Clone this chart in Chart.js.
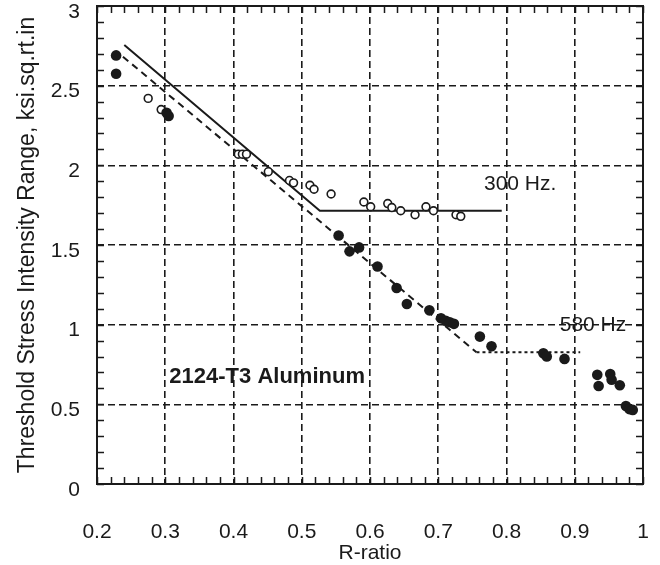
<!DOCTYPE html>
<html>
<head>
    <title>Threshold stress intensity vs R-ratio</title>
    <meta charset="UTF-8">
    <script src="https://cdn.jsdelivr.net/npm/chart.js@4.4.1/dist/chart.umd.min.js"></script>
    <style>
        body { margin: 0; background: #fff; }
        canvas { display: block; }
    </style>
</head>
<body>
<canvas id="myChart" width="660" height="565"></canvas>
<script>
    // 300 Hz tests (open circles)
    const r300 = [0.275, 0.294, 0.407, 0.413, 0.419, 0.451, 0.482, 0.488, 0.512, 0.518, 0.543,
                  0.591, 0.601, 0.626, 0.632, 0.645, 0.666, 0.682, 0.693, 0.726, 0.733];
    const dk300 = [2.42, 2.35, 2.07, 2.07, 2.07, 1.96, 1.905, 1.89, 1.875, 1.85, 1.82,
                   1.77, 1.74, 1.76, 1.735, 1.715, 1.69, 1.74, 1.715, 1.69, 1.68];

    // 580 Hz tests (filled circles)
    const r580 = [0.228, 0.228, 0.302, 0.305, 0.554, 0.570, 0.584, 0.611, 0.639, 0.654, 0.687,
                  0.704, 0.711, 0.717, 0.723, 0.761, 0.778, 0.854, 0.859, 0.885,
                  0.933, 0.935, 0.952, 0.954, 0.966, 0.975, 0.980, 0.985];
    const dk580 = [2.69, 2.575, 2.33, 2.31, 1.56, 1.46, 1.485, 1.365, 1.23, 1.13, 1.09,
                   1.04, 1.025, 1.015, 1.005, 0.925, 0.865, 0.82, 0.80, 0.785,
                   0.685, 0.615, 0.69, 0.655, 0.62, 0.49, 0.47, 0.465];

    // trend lines
    const fit300R = [0.240, 0.5265, 0.793];
    const fit300K = [2.755, 1.715, 1.715];
    const fit580R = [0.238, 0.756];
    const fit580K = [2.682, 0.827];
    const flat580R = [0.756, 0.908];
    const flat580K = [0.827, 0.827];

    const ink = '#1a1a1a';
    const fontFamily = "'Liberation Sans', Arial, sans-serif";

    function pts(xs, ys) {
        return xs.map((x, i) => ({x: x, y: ys[i]}));
    }

    const tickText = v => String(Number(v.toFixed(1)));

    // frame, inward minor ticks and the text notes
    const framePlugin = {
        id: 'frame',
        beforeDatasetsDraw(chart) {
            const {ctx, chartArea: a, scales: {x, y}} = chart;
            ctx.save();
            ctx.strokeStyle = ink;
            ctx.lineWidth = 1.5;
            ctx.beginPath();
            for (let i = 0; i <= 40; i++) {
                const px = Math.round(x.getPixelForValue(0.2 + i * 0.02)) + 0.5;
                ctx.moveTo(px, a.bottom); ctx.lineTo(px, a.bottom - 7);
                ctx.moveTo(px, a.top); ctx.lineTo(px, a.top + 7);
            }
            for (let i = 0; i <= 30; i++) {
                const py = Math.round(y.getPixelForValue(i * 0.1)) + 0.5;
                ctx.moveTo(a.left, py); ctx.lineTo(a.left + 7, py);
                ctx.moveTo(a.right, py); ctx.lineTo(a.right - 7, py);
            }
            ctx.stroke();
            ctx.lineWidth = 2;
            ctx.strokeRect(a.left, a.top, a.right - a.left, a.bottom - a.top);
            ctx.restore();
        },
        afterDatasetsDraw(chart) {
            const {ctx, scales: {x, y}} = chart;
            ctx.save();
            ctx.fillStyle = ink;
            ctx.textBaseline = 'middle';
            ctx.textAlign = 'left';
            ctx.font = '21px ' + fontFamily;
            ctx.fillText('300 Hz.', x.getPixelForValue(0.767), y.getPixelForValue(1.88));
            ctx.fillText('580 Hz', x.getPixelForValue(0.878), y.getPixelForValue(0.995));
            ctx.font = 'bold 22px ' + fontFamily;
            ctx.fillText('2124-T3 Aluminum', x.getPixelForValue(0.306), y.getPixelForValue(0.672));
            ctx.restore();
        }
    };

    let ctx = document.getElementById('myChart').getContext('2d');
    let myChart = new Chart(ctx, {
        type: 'scatter',
        data: {
            datasets: [
                {
                    label: '580 Hz',
                    data: pts(r580, dk580),
                    pointStyle: 'circle',
                    pointRadius: 5.3,
                    backgroundColor: ink,
                    borderColor: ink,
                    borderWidth: 0
                },
                {
                    label: '300 Hz',
                    data: pts(r300, dk300),
                    pointStyle: 'circle',
                    pointRadius: 3.9,
                    backgroundColor: '#fff',
                    borderColor: ink,
                    borderWidth: 1.6
                },
                {
                    label: '300 Hz fit',
                    data: pts(fit300R, fit300K),
                    showLine: true,
                    pointRadius: 0,
                    borderColor: ink,
                    borderWidth: 2
                },
                {
                    label: '580 Hz fit',
                    data: pts(fit580R, fit580K),
                    showLine: true,
                    pointRadius: 0,
                    borderColor: ink,
                    borderWidth: 2,
                    borderDash: [7, 5]
                },
                {
                    label: '580 Hz plateau',
                    data: pts(flat580R, flat580K),
                    showLine: true,
                    pointRadius: 0,
                    borderColor: ink,
                    borderWidth: 2,
                    borderDash: [3, 3]
                }
            ]
        },
        options: {
            responsive: false,
            animation: false,
            layout: {padding: {top: 6, right: 17, bottom: 0, left: 0}},
            plugins: {
                legend: {display: false},
                tooltip: {enabled: false}
            },
            scales: {
                x: {
                    type: 'linear',
                    min: 0.2,
                    max: 1,
                    ticks: {
                        stepSize: 0.1,
                        padding: 36,
                        color: ink,
                        font: {family: fontFamily, size: 21},
                        maxRotation: 0,
                        callback: tickText
                    },
                    grid: {color: ink, lineWidth: 1.6, drawTicks: false},
                    border: {display: false, dash: [7, 4]},
                    title: {
                        display: true,
                        text: 'R-ratio',
                        color: ink,
                        font: {family: fontFamily, size: 21},
                        padding: {top: 0, bottom: -1}
                    },
                    afterFit: s => {
                        s.height = 81;
                        s.paddingLeft = 0;
                        s.paddingRight = 0;
                    }
                },
                y: {
                    min: 0,
                    max: 3,
                    ticks: {
                        stepSize: 0.5,
                        padding: 17,
                        labelOffset: 6,
                        color: ink,
                        font: {family: fontFamily, size: 21},
                        callback: tickText
                    },
                    grid: {color: ink, lineWidth: 1.6, drawTicks: false},
                    border: {display: false, dash: [7, 4]},
                    title: {
                        display: true,
                        text: 'Threshold Stress Intensity Range, ksi.sq.rt.in',
                        color: ink,
                        font: {family: fontFamily, size: 23},
                        padding: {top: 14, bottom: 0}
                    },
                    afterFit: s => {
                        s.width = 97;
                        s.paddingTop = 0;
                        s.paddingBottom = 0;
                    }
                }
            }
        },
        plugins: [framePlugin]
    });
</script>
</body>
</html>
